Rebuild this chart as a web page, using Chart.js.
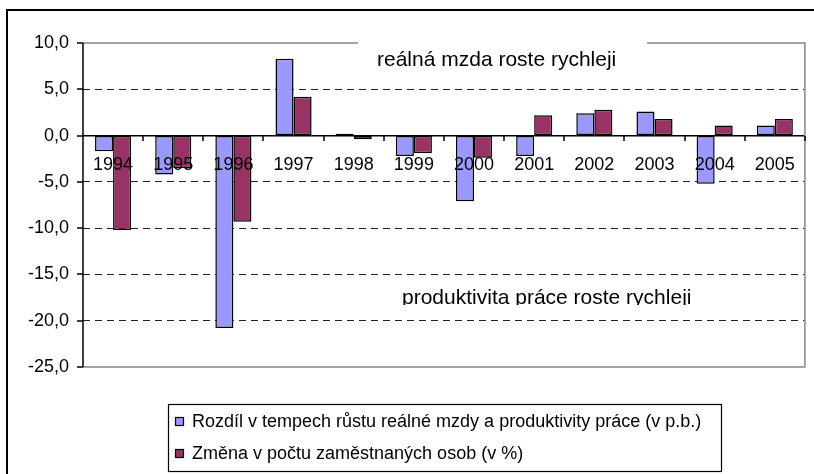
<!DOCTYPE html>
<html>
<head>
<meta charset="utf-8">
<script src="https://cdn.jsdelivr.net/npm/chart.js@4.4.0/dist/chart.umd.min.js"></script>
<style>
  body { margin: 0; background: #fff; }
  canvas { display: block; }
</style>
</head>
<body>
<canvas id="chart" width="814" height="474"></canvas>
<script>
const years = ['1994', '1995', '1996', '1997', '1998', '1999', '2000', '2001', '2002', '2003', '2004', '2005'];
const wageGap = [-1.7, -4.2, -20.8, 8.3, 0.2, -2.2, -7.1, -2.2, 2.4, 2.6, -5.2, 1.1];
const employment = [-10.2, -3.5, -9.3, 4.2, -0.4, -1.9, -2.4, 2.2, 2.8, 1.8, 1.1, 1.8];
const seriesLabels = [
    'Rozdíl v tempech růstu reálné mzdy a produktivity práce (v p.b.)',
    'Změna v počtu zaměstnaných osob (v %)'
];
const seriesColors = ['#9999ff', '#993366'];
const yMin = -25, yMax = 10, yStep = 5;
const notes = ['reálná mzda roste rychleji', 'produktivita práce roste rychleji'];

const FONT = "'Liberation Sans', Arial, sans-serif";

const decor = {
    id: 'decor',
    beforeDraw(chart) {
        const ctx = chart.ctx;
        ctx.save();
        ctx.fillStyle = '#fff';
        ctx.fillRect(0, 0, chart.width, chart.height);
        ctx.strokeStyle = '#000';
        ctx.lineWidth = 2;
        ctx.strokeRect(7, 10, chart.width + 10, chart.height + 10);
        ctx.restore();
    },
    beforeDatasetsDraw(chart) {
        const ctx = chart.ctx, a = chart.chartArea;
        const xs = chart.scales.x, ys = chart.scales.y;
        ctx.save();
        // plot frame (gray)
        ctx.strokeStyle = '#888';
        ctx.lineWidth = 1.5;
        ctx.beginPath();
        ctx.moveTo(a.left, a.top);
        ctx.lineTo(a.right, a.top);
        ctx.lineTo(a.right, a.bottom);
        ctx.lineTo(a.left, a.bottom);
        ctx.stroke();
        // value axis line and its tick marks
        ctx.strokeStyle = '#000';
        ctx.lineWidth = 1.5;
        ctx.beginPath();
        const lx = Math.round(a.left);
        ctx.moveTo(lx, a.top);
        ctx.lineTo(lx, a.bottom);
        ys.ticks.forEach(t => {
            const y = Math.round(ys.getPixelForValue(t.value));
            ctx.moveTo(lx - 6, y);
            ctx.lineTo(lx, y);
        });
        // category boundary tick marks under the zero line
        const y0 = Math.round(ys.getPixelForValue(0));
        for (let i = 0; i <= years.length; i++) {
            const x = Math.round(xs.getPixelForValue(i - 0.5));
            ctx.moveTo(x, y0);
            ctx.lineTo(x, y0 + 5);
        }
        ctx.stroke();
        ctx.restore();
    },
    afterDraw(chart) {
        const ctx = chart.ctx;
        ctx.save();
        // top note box covers the plot border
        ctx.fillStyle = '#fff';
        ctx.fillRect(358, 36, 289, 40);
        ctx.fillStyle = '#000';
        ctx.font = '21px ' + FONT;
        ctx.textBaseline = 'alphabetic';
        ctx.textAlign = 'left';
        ctx.fillText(notes[0], 377, 66);
        // bottom note, clipped at its box edge
        ctx.save();
        ctx.beginPath();
        ctx.rect(395, 282, 310, 23);
        ctx.clip();
        ctx.fillText(notes[1], 402, 304);
        ctx.restore();

        // legend
        ctx.strokeStyle = '#000';
        ctx.lineWidth = 1.2;
        ctx.strokeRect(168.5, 404.5, 553, 67);
        ctx.font = '18px ' + FONT;
        ctx.textBaseline = 'middle';
        seriesLabels.forEach((label, i) => {
            const y = 421 + i * 32.5;
            ctx.fillStyle = seriesColors[i];
            ctx.fillRect(175.5, Math.round(y - 4.5) + 0.5, 8, 8);
            ctx.strokeRect(175.5, Math.round(y - 4.5) + 0.5, 8, 8);
            ctx.fillStyle = '#000';
            ctx.fillText(label, 192, y + 1);
        });
        ctx.restore();
    }
};

new Chart(document.getElementById('chart'), {
    type: 'bar',
    data: {
        labels: years,
        datasets: [
            { label: seriesLabels[0], data: wageGap, backgroundColor: seriesColors[0], borderColor: '#000', borderWidth: 1.5, borderSkipped: false },
            { label: seriesLabels[1], data: employment, backgroundColor: seriesColors[1], borderColor: '#000', borderWidth: 1.5, borderSkipped: false }
        ]
    },
    options: {
        responsive: false,
        animation: false,
        layout: { padding: { left: 0, top: 43, right: 4, bottom: 107 } },
        datasets: { bar: { categoryPercentage: 0.6, barPercentage: 1 } },
        plugins: { legend: { display: false }, tooltip: { enabled: false } },
        scales: {
            x: {
                position: { y: 0 },
                offset: true,
                grid: { drawOnChartArea: false, drawTicks: false, offset: true },
                border: { color: '#000', width: 1.5 },
                ticks: { color: '#000', font: { family: FONT, size: 18 }, padding: 19, maxRotation: 0, autoSkip: false, z: 1 }
            },
            y: {
                min: yMin,
                max: yMax,
                afterFit: s => { s.width = 83; },
                grid: {
                    color: c => (c.tick.value === 0 || c.tick.value === yMin || c.tick.value === yMax) ? 'rgba(0,0,0,0)' : '#222',
                    drawTicks: false
                },
                border: { display: false, dash: [7, 5] },
                ticks: {
                    stepSize: yStep,
                    color: '#000',
                    padding: 14,
                    font: { family: FONT, size: 18 },
                    callback: v => v.toFixed(1).replace('.', ',')
                }
            }
        }
    },
    plugins: [decor]
});
</script>
</body>
</html>
